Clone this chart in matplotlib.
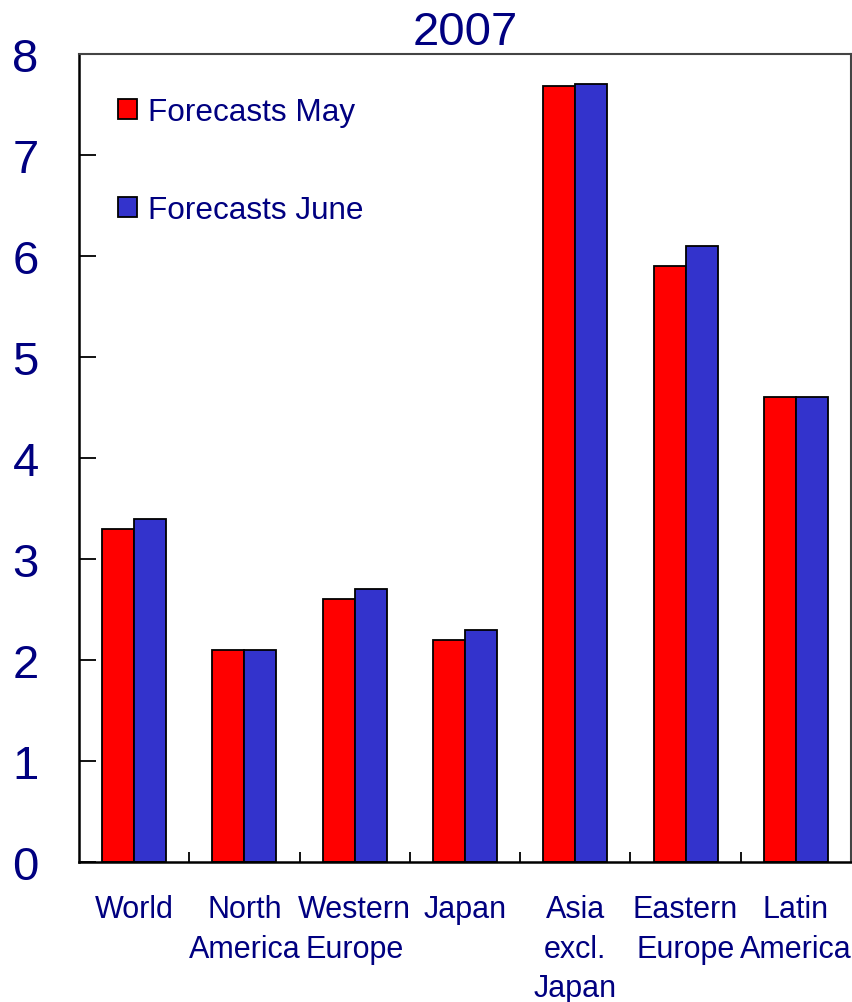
import matplotlib.pyplot as plt
import numpy as np

plt.rcParams["font.family"] = ["Liberation Sans", "DejaVu Sans"]

NAVY = "#000080"
RED = "#FF0000"
BLUE = "#3333CC"

regions = ["World", "North\nAmerica", "Western\nEurope", "Japan",
           "Asia\nexcl.\nJapan", "Eastern\nEurope", "Latin\nAmerica"]
forecasts_may = [3.3, 2.1, 2.6, 2.2, 7.68, 5.9, 4.6]
forecasts_june = [3.4, 2.1, 2.7, 2.3, 7.7, 6.1, 4.6]

fig = plt.figure(figsize=(8.52, 10.03), dpi=100)
ax = fig.add_axes([0.0927, 0.1396, 0.9061, 0.8056])

x = np.arange(len(regions))
w = 0.29
ax.bar(x - w / 2, forecasts_may, w, color=RED, edgecolor="black",
       linewidth=1.3, label="Forecasts May")
ax.bar(x + w / 2, forecasts_june, w, color=BLUE, edgecolor="black",
       linewidth=1.3, label="Forecasts June")

ax.set_xlim(-0.5, len(regions) - 0.5)
ax.set_ylim(0, 8)

# y ticks point into the plot, labels sit well left of the spine
ax.set_yticks(range(0, 9))
ax.tick_params(axis="y", direction="in", length=12, width=1.3,
               labelsize=34, labelcolor=NAVY, pad=29)

# x ticks sit between the groups, labels centred under each group
ax.set_xticks(x[:-1] + 0.5)
ax.set_xticklabels([])
ax.tick_params(axis="x", which="major", direction="in", length=7, width=1.3)
ax.set_xticks(x, minor=True)
ax.set_xticklabels(regions, minor=True, fontsize=22, color=NAVY,
                   linespacing=1.42, va="top")
ax.tick_params(axis="x", which="minor", length=0, pad=23)

for side in ["left", "bottom"]:
    ax.spines[side].set_linewidth(1.8)
for side in ["top", "right"]:
    ax.spines[side].set_linewidth(1.5)
    ax.spines[side].set_color("#444444")

ax.set_title("2007", fontsize=34, color=NAVY, pad=7)

leg = ax.legend(loc="upper left", bbox_to_anchor=(0.034, 0.962), frameon=False,
                fontsize=22.7, handlelength=0.62, handleheight=0.62,
                handletextpad=0.33, labelspacing=2.15, borderaxespad=0)
for t in leg.get_texts():
    t.set_color(NAVY)

fig.savefig("out.png", dpi=100)
